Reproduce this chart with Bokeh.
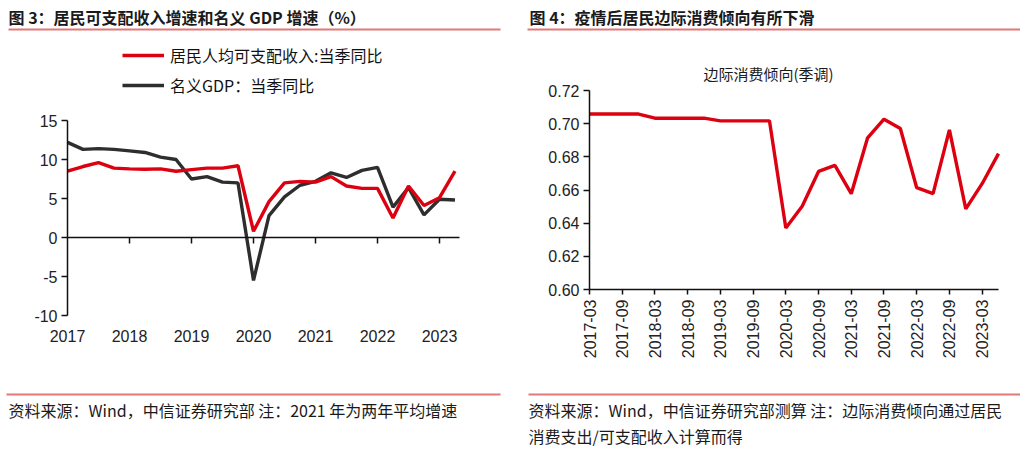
from math import pi
from bokeh.plotting import figure
from bokeh.models import (Range1d, FixedTicker, LinearAxis, Label, BoxAnnotation,
                          Legend, LegendItem)
from bokeh.embed import file_html
from bokeh.resources import INLINE

# ---------------- data ----------------
quarters = ["2017-03", "2017-06", "2017-09", "2017-12",
            "2018-03", "2018-06", "2018-09", "2018-12",
            "2019-03", "2019-06", "2019-09", "2019-12",
            "2020-03", "2020-06", "2020-09", "2020-12",
            "2021-03", "2021-06", "2021-09", "2021-12",
            "2022-03", "2022-06", "2022-09", "2022-12",
            "2023-03", "2023-06"]
income_yoy = [8.5, 9.1, 9.6, 8.9, 8.8, 8.75, 8.8, 8.5, 8.7, 8.9, 8.9, 9.2,
              0.8, 4.6, 7.0, 7.2, 7.1, 7.8, 6.6, 6.3, 6.3, 2.5, 6.6, 4.1, 5.1, 8.5]
gdp_yoy = [12.2, 11.3, 11.4, 11.3, 11.1, 10.9, 10.3, 10.0, 7.5, 7.8, 7.1, 7.0,
           -5.5, 2.8, 5.2, 6.7, 7.2, 8.3, 7.7, 8.6, 9.0, 3.9, 6.4, 2.9, 4.9, 4.8]
mpc = [0.7058, 0.7058, 0.7058, 0.7058, 0.7033, 0.7033, 0.7033, 0.7033,
       0.7017, 0.7017, 0.7017, 0.7017, 0.6371, 0.6502, 0.6712, 0.6749,
       0.6578, 0.6915, 0.7027, 0.6971, 0.6614, 0.6578, 0.6963, 0.6486,
       0.6638, 0.6819]
year_labels = ["2017", "2018", "2019", "2020", "2021", "2022", "2023"]
left_yticks = [-10, -5, 0, 5, 10, 15]
left_ylabels = ["-10", "-5", "0", "5", "10", "15"]
right_yticks = [0.60, 0.62, 0.64, 0.66, 0.68, 0.70, 0.72]
right_ylabels = ["0.60", "0.62", "0.64", "0.66", "0.68", "0.70", "0.72"]

series_names = ["居民人均可支配收入:当季同比", "名义GDP：当季同比"]
title_left = "图 3：居民可支配收入增速和名义 GDP 增速（%）"
title_right = "图 4：疫情后居民边际消费倾向有所下滑"
subtitle_right = "边际消费倾向(季调)"
footer_left = "资料来源：Wind，中信证券研究部 注：2021 年为两年平均增速"
footer_right_1 = "资料来源：Wind，中信证券研究部测算 注：边际消费倾向通过居民"
footer_right_2 = "消费支出/可支配收入计算而得"

# ---------------- styles / geometry (pixels) ----------------
W, H = 1020, 446
RED = "#dd0010"
DARK = "#2e2e2e"
RULE = "#e07878"
CJK = "Noto Sans CJK SC"
LAT = "Liberation Sans"
TXT = "#1a1a1a"

# left chart frame: x 2017 at px 67, 62 px / year; y 15 at px 120, -10 at px 315
L_X0, L_PPX = 67.0, 62.0
L_YTOP, L_YBOT = 120.0, 315.0
L_PPY = (L_YBOT - L_YTOP) / 25.0
# right chart frame: x idx0 at 589, idx25 at 998; y 0.72 at 90, 0.60 at 289
R_X0, R_X1 = 589.0, 998.0
R_PPX = (R_X1 - R_X0) / 25.0
R_YTOP, R_YBOT = 90.0, 289.0
R_PPY = (R_YBOT - R_YTOP) / 0.12


def qpos(q):
    y, m = q.split("-")
    return int(y) + (int(m) - 3) / 12.0


left_x = [qpos(q) for q in quarters]
right_x = list(range(len(quarters)))
year_pos = [int(y) for y in year_labels]

p = figure(width=W, height=H, output_backend="svg", toolbar_location=None,
           x_range=Range1d(0, W), y_range=Range1d(0, H),
           x_axis_type=None, y_axis_type=None,
           min_border_left=0, min_border_right=0, min_border_top=0, min_border_bottom=0)
p.outline_line_color = None
p.title.visible = False

p.extra_x_ranges = {
    "xl": Range1d(2017 - L_X0 / L_PPX, 2017 + (W - L_X0) / L_PPX),
    "xr": Range1d(0 - R_X0 / R_PPX, 0 + (W - R_X0) / R_PPX),
}
p.extra_y_ranges = {
    "yl": Range1d(-10 - (H - L_YBOT) / L_PPY, 15 + L_YTOP / L_PPY),
    "yr": Range1d(0.60 - (H - R_YBOT) / R_PPY, 0.72 + R_YTOP / R_PPY),
}


def style_axis(ax, size="16px"):
    ax.axis_line_color = "#111111"
    ax.axis_line_width = 1.5
    ax.major_tick_line_color = "#111111"
    ax.major_tick_line_width = 1.5
    ax.major_tick_in = 0
    ax.major_tick_out = 6
    ax.minor_tick_line_color = None
    ax.major_label_text_font = LAT
    ax.major_label_text_font_size = size
    ax.major_label_text_color = "#222222"


# ---- left chart axes ----
ly = LinearAxis(x_range_name="xl", y_range_name="yl", fixed_location=2017,
                bounds=(-10, 15), ticker=FixedTicker(ticks=left_yticks))
style_axis(ly)
ly.major_label_standoff = 4
ly.major_label_overrides = {t: s for t, s in zip(left_yticks, left_ylabels)}
p.add_layout(ly, "left")

lx_lab = LinearAxis(x_range_name="xl", y_range_name="yl", fixed_location=-10,
                    ticker=FixedTicker(ticks=year_pos))
style_axis(lx_lab)
lx_lab.axis_line_color = None
lx_lab.major_tick_line_color = None
lx_lab.major_label_standoff = 8
lx_lab.major_label_overrides = {yp: lab for yp, lab in zip(year_pos, year_labels)}
p.add_layout(lx_lab, "below")

lx_zero = LinearAxis(x_range_name="xl", y_range_name="yl", fixed_location=0,
                     bounds=(2017, 2017 + (459 - L_X0) / L_PPX),
                     ticker=FixedTicker(ticks=year_pos[1:]))
style_axis(lx_zero)
lx_zero.major_label_overrides = {yp: "" for yp in year_pos}
lx_zero.major_label_text_font_size = "1px"
p.add_layout(lx_zero, "below")

r_gdp = p.line(left_x, gdp_yoy, line_color=DARK, line_width=3.4,
               x_range_name="xl", y_range_name="yl")
r_inc = p.line(left_x, income_yoy, line_color=RED, line_width=3.4,
               x_range_name="xl", y_range_name="yl")

legend = Legend(items=[LegendItem(label=series_names[0], renderers=[r_inc]),
                       LegendItem(label=series_names[1], renderers=[r_gdp])],
                location=(122, H - 97), glyph_width=42, glyph_height=20, label_height=20,
                spacing=6, padding=0, margin=0, border_line_color=None,
                background_fill_alpha=0, label_text_font=CJK,
                label_text_font_size="16px", label_text_color="#111111", label_standoff=6)
p.add_layout(legend)

# ---- right chart axes ----
ry = LinearAxis(x_range_name="xr", y_range_name="yr", fixed_location=0,
                bounds=(0.60, 0.72), ticker=FixedTicker(ticks=right_yticks))
style_axis(ry)
ry.major_label_standoff = 4
ry.major_label_overrides = {t: s for t, s in zip(right_yticks, right_ylabels)}
p.add_layout(ry, "left")

rx = LinearAxis(x_range_name="xr", y_range_name="yr", fixed_location=0.60,
                bounds=(0, 25), ticker=FixedTicker(ticks=right_x[::2]))
style_axis(rx)
rx.major_label_overrides = {i: quarters[i] for i in right_x[::2]}
rx.major_label_orientation = pi / 2
rx.major_tick_out = 5
rx.major_label_standoff = 5
p.add_layout(rx, "below")

p.line(right_x, mpc, line_color=RED, line_width=3.4, x_range_name="xr", y_range_name="yr")


# ---- texts and rules (page pixel positions, y measured from top) ----
def label(x, y, text, size="16px", style="normal"):
    p.add_layout(Label(x=x, y=H - y, text=text, text_font=CJK, text_font_size=size,
                       text_font_style=style, text_color=TXT,
                       text_baseline="middle", text_align="left"))


def rule(x0, x1, y, thick=2.0):
    p.add_layout(BoxAnnotation(left=x0, right=x1, bottom=H - y - thick / 2,
                               top=H - y + thick / 2, fill_color=RULE, fill_alpha=1,
                               line_color=None))


label(8, 16, title_left, style="bold")
label(529, 16, title_right, style="bold")
rule(8, 500, 29)
rule(527, W, 29)
label(703, 73, subtitle_right, size="15px")
rule(6, 500, 394)
rule(528, W, 394)
label(8, 409, footer_left)
label(528, 409, footer_right_1)
label(528, 435, footer_right_2)

open("out.html", "w").write(file_html(p, INLINE))
